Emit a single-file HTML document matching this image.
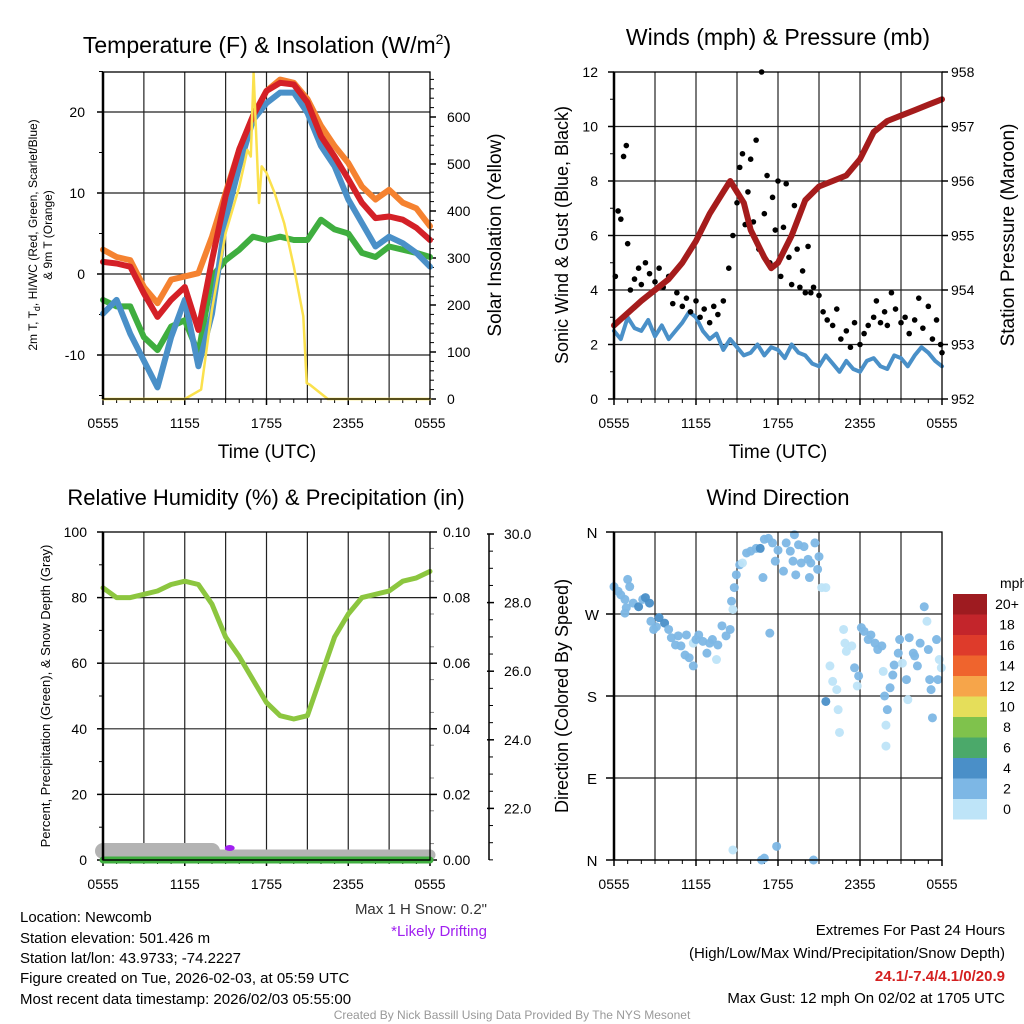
<!DOCTYPE html>
<html><head><meta charset="utf-8">
<style>
html,body{margin:0;padding:0;background:#fff;}
svg{display:block;font-family:"Liberation Sans",Arial,sans-serif;}
</style></head>
<body>
<svg id="fig" width="1024" height="1024" viewBox="0 0 1024 1024" xmlns="http://www.w3.org/2000/svg">
<rect width="1024" height="1024" fill="#fff"/>
<g id="g1"></g>
<g id="g2"></g>
<g id="g3"></g>
<g id="g4"></g>
<g id="g5">
<text x="267" y="53" font-size="23" text-anchor="middle">Temperature (F) &amp; Insolation (W/m<tspan font-size="14" dy="-9">2</tspan><tspan dy="9">)</tspan></text>
<text x="778" y="45" font-size="23" text-anchor="middle">Winds (mph) &amp; Pressure (mb)</text>
<text x="266" y="505" font-size="22" text-anchor="middle">Relative Humidity (%) &amp; Precipitation (in)</text>
<text x="778" y="505" font-size="22" text-anchor="middle">Wind Direction</text>

<text x="267" y="458" font-size="19" text-anchor="middle">Time (UTC)</text>
<text x="778" y="458" font-size="19" text-anchor="middle">Time (UTC)</text>
<text transform="translate(37,235) rotate(-90)" font-size="12" text-anchor="middle">2m T, T<tspan font-size="9" dy="3">d</tspan><tspan dy="-3">, HI/WC (Red, Green, Scarlet/Blue)</tspan></text>
<text transform="translate(52,235) rotate(-90)" font-size="12" text-anchor="middle">&amp; 9m T (Orange)</text>
<text transform="translate(501,235) rotate(-90)" font-size="19" text-anchor="middle">Solar Insolation (Yellow)</text>
<text transform="translate(568,235) rotate(-90)" font-size="18" text-anchor="middle">Sonic Wind &amp; Gust (Blue, Black)</text>
<text transform="translate(1014,235) rotate(-90)" font-size="19" text-anchor="middle">Station Pressure (Maroon)</text>
<text transform="translate(50,696) rotate(-90)" font-size="13" text-anchor="middle">Percent, Precipitation (Green), &amp; Snow Depth (Gray)</text>
<text transform="translate(568,696) rotate(-90)" font-size="18" text-anchor="middle">Direction (Colored By Speed)</text>

<text x="487" y="914" font-size="15" text-anchor="end" fill="#333">Max 1 H Snow: 0.2"</text>
<text x="487" y="936" font-size="15" text-anchor="end" fill="#a020f0">*Likely Drifting</text>
<g font-size="15">
<text x="20" y="922">Location: Newcomb</text>
<text x="20" y="943">Station elevation: 501.426 m</text>
<text x="20" y="963">Station lat/lon: 43.9733; -74.2227</text>
<text x="20" y="983">Figure created on Tue, 2026-02-03, at 05:59 UTC</text>
<text x="20" y="1004">Most recent data timestamp: 2026/02/03 05:55:00</text>
</g>
<g font-size="15" text-anchor="end">
<text x="1005" y="935">Extremes For Past 24 Hours</text>
<text x="1005" y="958">(High/Low/Max Wind/Precipitation/Snow Depth)</text>
<text x="1005" y="981" fill="#d42020" font-weight="bold">24.1/-7.4/4.1/0/20.9</text>
<text x="1005" y="1003">Max Gust: 12 mph On 02/02 at 1705 UTC</text>
</g>
<text x="512" y="1019" font-size="12" fill="#999" text-anchor="middle">Created By Nick Bassill Using Data Provided By The NYS Mesonet</text>
</g>
</svg>
<script>
// ---------- DATA ----------
const hours = [0,1,2,3,4,5,6,7,8,9,10,11,12,13,14,15,16,17,18,19,20,21,22,23,24];
const tempRed = [1.5,1.3,0.9,-2.4,-5.3,-3.2,-1.6,-6.9,1.7,9.6,15.4,19.5,22.6,23.6,23.4,21.2,17,14.5,11.7,8.8,6.9,7.1,6.7,5.7,4.2];
const tempOrange = [3,2.1,1.7,-1.6,-3.6,-0.7,-0.3,0.1,4.6,10,15.4,19.5,22.6,24,23.6,21.6,18.3,15.8,13.7,10.8,9.2,10.4,8.8,8.1,5.9];
const tempBlue = [-4.9,-3.2,-7.4,-10.7,-14,-7.8,-3.2,-11.4,-4.9,6.7,13.3,19,21.1,22.4,22.4,19.9,15.8,13.3,9.2,6.3,3.4,4.6,3.8,2.6,0.9];
const tempGreen = [-3.2,-4,-4,-7.8,-9.4,-6.5,-5.7,-9.8,-0.3,1.7,3,4.6,4.2,4.6,4.2,4.2,6.7,5.5,5,2.6,2.1,3.4,3,2.6,2.1];
const solarHours = [0,6,7.2,8,9,10,10.6,10.85,11.05,11.45,11.65,12,12.6,13.3,14,14.7,14.95,15.2,16.5,24];
const solarValues = [0,0,20,190,353,452,530,516,694,417,495,481,438,374,282,176,34,30,0,0];
const tempTicks = [-10,0,10,20];
const solarTicks = [0,100,200,300,400,500,600];
const timeLabels = ["0555","1155","1755","2355","0555"];
const timeLabelHours = [0,6,12,18,24];

const pressHours = [0,2,4,5,6,7,8,8.5,9.5,10,11,11.5,12,13,14,15,16,17,18,19,20,21,22,23,24];
const pressValues = [953.35,953.8,954.2,954.5,954.9,955.4,955.8,956.0,955.6,955.1,954.6,954.4,954.5,955.0,955.65,955.9,956.0,956.1,956.4,956.9,957.1,957.2,957.3,957.4,957.5];
const windHours = [0,0.5,1,1.5,2,2.5,3,3.5,4,4.5,5,5.5,6,6.5,7,7.5,8,8.5,9,9.5,10,10.5,11,11.5,12,12.5,13,13.5,14,14.5,15,15.5,16,16.5,17,17.5,18,18.5,19,19.5,20,20.5,21,21.5,22,22.5,23,23.5,24];
const windValues = [2.5,2.2,3.0,2.6,2.5,2.9,2.3,2.7,2.2,2.5,2.8,3.2,3.0,2.5,2.2,2.4,1.8,2.2,1.9,1.6,1.7,2.0,1.6,1.9,1.8,1.5,2.0,1.7,1.6,1.3,1.2,1.6,1.3,1.0,1.4,1.1,1.0,1.4,1.5,1.2,1.1,1.6,1.5,1.2,1.6,1.9,1.7,1.4,1.2];
const gustHours = [0.1,0.3,0.5,0.7,0.9,1.0,1.2,1.5,1.8,2.0,2.3,2.6,3.0,3.3,3.6,4.0,4.3,4.6,5.0,5.3,5.6,6.0,6.3,6.6,7.0,7.3,7.6,8.0,8.4,8.7,9.0,9.2,9.4,9.6,9.8,10.0,10.2,10.4,10.6,10.8,11.0,11.2,11.4,11.6,11.8,12.0,12.2,12.4,12.6,12.8,13.0,13.2,13.4,13.6,13.8,14.0,14.2,14.4,14.6,15.0,15.3,15.6,16.0,16.3,16.6,17.0,17.3,17.6,18.0,18.3,18.6,19.0,19.2,19.5,19.8,20.0,20.3,20.6,21.0,21.3,21.6,22.0,22.3,22.6,23.0,23.3,23.6,23.9,24.0];
const gustValues = [4.5,6.9,6.6,8.9,9.3,5.7,4.0,4.4,4.8,4.2,5.0,4.6,4.3,4.8,4.1,4.5,3.5,3.9,3.4,3.7,3.2,3.6,3.0,3.3,2.8,3.4,3.1,3.6,4.8,6.0,7.2,8.5,9.0,6.4,7.6,8.8,6.5,9.5,5.5,12.0,6.8,8.2,5.0,7.4,6.2,8.0,4.5,6.3,7.9,5.2,4.2,7.1,5.5,4.1,4.7,3.9,5.6,3.9,4.1,3.8,3.2,2.9,2.7,3.3,2.2,2.5,1.9,2.8,2.0,2.4,2.7,3.0,3.6,2.8,3.2,2.7,3.9,3.3,2.8,3.0,2.4,2.9,3.7,2.6,3.4,2.2,2.9,2.0,1.7];
const windTicks = [0,2,4,6,8,10,12];
const pressTicks = [952,953,954,955,956,957,958];

const rhHours = hours;
const rhValues = [83,80,80,81,82,84,85,84,78,68,62,55,48,44,43,44,56,68,75,80,81,82,85,86,88];
const precipValues = [0,0,0,0,0,0,0,0,0,0,0,0,0,0,0,0,0,0,0,0,0,0,0,0,0];
const snowHours = [0,8,8.3,24];
const snowValues = [20.9,20.9,20.5,20.5];
const rhTicks = [0,20,40,60,80,100];
const precipTicks = [0,0.02,0.04,0.06,0.08,0.10];
const snowTicks = [22,24,26,28,30];

const dirHours = [0,0.3,0.5,0.8,1,1.15,0.9,0.8,1.4,1.8,2.1,2.3,2.6,2.7,2.9,3.1,3.3,3.7,4,4.2,4.5,4.7,4.9,5.2,5.3,5.5,5.8,5.8,6,6.2,6.5,6.8,7,7.2,7.5,7.6,7.9,8.2,8.5,8.6,8.7,8.8,8.95,9.2,9.4,9.7,10,10.4,10.7,10.9,11,11.3,11.4,11.6,11.8,12,12.4,12.6,12.9,13.1,13.2,13.3,13.5,13.7,13.9,14.2,14.3,14.4,14.7,14.9,15,15.2,15.5,15.5,15.8,16,16.3,16.4,16.5,16.8,16.9,17,17.4,17.6,17.8,17.9,18.1,18.3,18.6,18.8,19.1,19.3,19.6,19.7,19.8,20,19.9,19.9,20.2,20.4,20.5,20.8,20.9,21.1,21.4,21.5,21.6,21.9,22,22.2,22.4,22.7,22.9,23,23.1,23.2,23.3,23.6,23.7,23.8,23.95,8.7,10.8,11,11.9,14.6];
const dirValues = [300,295,291,286,308,300,277,271,282,278,286,288,282,262,253,256,266,260,253,244,236,246,235,225,247,222,213,238,242,247,240,227,238,242,220,236,257,246,253,284,275,299,313,324,326,337,339,342,342,310,352,353,249,348,328,340,317,348,339,328,357,313,346,326,344,330,310,326,348,319,333,299,299,174,213,196,187,165,140,253,238,229,235,211,191,202,255,251,242,247,238,231,235,207,180,165,148,125,189,203,214,227,242,216,198,176,244,227,224,213,238,278,262,231,198,187,156,242,198,220,211,11,0,2,15,0];
const dirSpeeds = [3,3,3,3,3,3,3,3,3,4,3,4,4,3,3,3,4,4,3,3,3,3,3,3,3,3,3,1,3,3,3,3,3,3,1,3,3,3,3,3,1,3,3,3,1,3,3,3,4,3,3,3,3,3,3,3,3,3,3,3,3,3,3,3,3,3,3,3,3,3,3,1,1,4,1,1,1,1,1,1,1,1,1,3,1,3,3,3,3,3,3,3,3,1,3,3,1,1,3,3,3,3,3,1,3,1,3,3,3,3,3,3,1,3,3,3,3,3,3,1,1,1,3,3,3,3,3];
const dirTicks = [360,270,180,90,0];
const dirLabels = ["N","W","S","E","N"];
const cbLabels = ["20+","18","16","14","12","10","8","6","4","2","0"];
const cbColors = ["#9e1b20","#c3252b","#de3b2b","#ef642d","#f6a54a","#e5de5a","#7fc24c","#4ba96a","#4a8fc8","#7db7e5","#bee4f8"];

// ---------- HELPERS ----------
const NS = "http://www.w3.org/2000/svg";
function mk(tag, attrs, parent){const e=document.createElementNS(NS,tag);for(const k in attrs)e.setAttribute(k,attrs[k]);parent.appendChild(e);return e;}
function line(p,x1,y1,x2,y2,c,w){return mk("line",{x1,y1,x2,y2,stroke:c,"stroke-width":w},p);}
function txt(p,x,y,s,size,anchor,fill){const t=mk("text",{x,y,"font-size":size,"text-anchor":anchor,fill:fill||"#000"},p);t.textContent=s;return t;}
function poly(p,xs,ys,fx,fy,c,w){let d="";for(let i=0;i<xs.length;i++)d+=(i?"L":"M")+fx(xs[i]).toFixed(1)+","+fy(ys[i]).toFixed(1);return mk("path",{d,fill:"none",stroke:c,"stroke-width":w,"stroke-linejoin":"round","stroke-linecap":"round"},p);}

function timeAxis(g,x0,x1,y0,y1){
  const fx=h=>x0+h*(x1-x0)/24;
  for(let h=3;h<24;h+=3){const l=line(g,fx(h),y0,fx(h),y1,"#222",1.2);

}
  for(let i=0;i<timeLabels.length;i++){
    const x=fx(timeLabelHours[i]);
    line(g,x,y1,x,y1+6,"#000",1.5);
    const t=txt(g,x,y1+29,timeLabels[i],14,"middle");


  }
  for(let h=1;h<24;h++){ if(h%6) line(g,fx(h),y1,fx(h),y1+4,"#000",1);}
  return fx;
}
function frame(g,x0,x1,y0,y1){
  mk("rect",{x:x0,y:y0,width:x1-x0,height:y1-y0,fill:"none",stroke:"#000","stroke-width":1.3},g);
  line(g,x0,y0,x0,y1,"#000",2.5);
}

// ---------- PANEL 1 ----------
(function(){
  const g=document.getElementById("g1");
  const x0=103,x1=430,y0=72,y1=399;
  const fy=v=>274-v*8.1;
  const fs=v=>399-v*0.47;
  const fx=timeAxis(g,x0,x1,y0,y1);
  tempTicks.forEach(v=>{const l=line(g,x0,fy(v),x1,fy(v),"#222",1.2);


    line(g,x0-6,fy(v),x0,fy(v),"#000",1.5);
    const t=txt(g,x0-18,fy(v)+5,String(v),14,"end");

});
  for(let v=-15;v<=25;v+=5){ if(v%10) line(g,x0-4,fy(v),x0,fy(v),"#000",1);}
  solarTicks.forEach(v=>{line(g,x1,fs(v),x1+6,fs(v),"#000",1.5);
    const t=txt(g,x1+17,fs(v)+5,String(v),14,"start");

});
  for(let v=20;v<=680;v+=20){ if(v%100) line(g,x1,fs(v),x1+4,fs(v),"#000",1);}
  const s1=poly(g,hours,tempOrange,fx,fy,"#f58230",6);


  const s2=poly(g,hours,tempGreen,fx,fy,"#3fae3f",6);


  const s3=poly(g,hours,tempBlue,fx,fy,"#4a90c8",6);


  const s4=poly(g,hours,tempRed,fx,fy,"#d42027",6);


  const s5=poly(g,solarHours,solarValues,fx,fs,"#fbe14d",2.5);


  frame(g,x0,x1,y0,y1);
})();

// ---------- PANEL 2 ----------
(function(){
  const g=document.getElementById("g2");
  const x0=614,x1=942,y0=72,y1=399;
  const fy=v=>399-v*27.25;
  const fp=v=>399-(v-952)*54.5;
  const fx=timeAxis(g,x0,x1,y0,y1);
  windTicks.forEach(v=>{ if(v>0&&v<12){const l=line(g,x0,fy(v),x1,fy(v),"#222",1.2);

}
    line(g,x0-6,fy(v),x0,fy(v),"#000",1.5);
    const t=txt(g,x0-16,fy(v)+5,String(v),14,"end");

});
  for(let v=1;v<12;v+=2) line(g,x0-4,fy(v),x0,fy(v),"#000",1);
  pressTicks.forEach(v=>{line(g,x1,fp(v),x1+6,fp(v),"#000",1.5);
    const t=txt(g,x1+9,fp(v)+5,String(v),14,"start");

});
  const w=poly(g,windHours,windValues,fx,fy,"#4a90c8",4);


  for(let i=0;i<gustHours.length;i++){
    const c=mk("circle",{cx:fx(gustHours[i]),cy:fy(gustValues[i]),r:2.8,fill:"#000"},g);


  }
  const p=poly(g,pressHours,pressValues,fx,fp,"#a51c1c",6);


  frame(g,x0,x1,y0,y1);
})();

// ---------- PANEL 3 ----------
(function(){
  const g=document.getElementById("g3");
  const x0=103,x1=430,y0=532,y1=860;
  const fy=v=>860-v*3.28;
  const fpr=v=>860-v*3280;
  const fsn=v=>534+(30-v)*34.3;
  const fx=timeAxis(g,x0,x1,y0,y1);
  rhTicks.forEach(v=>{ if(v>0&&v<100){const l=line(g,x0,fy(v),x1,fy(v),"#222",1.2);

}
    line(g,x0-6,fy(v),x0,fy(v),"#000",1.5);
    const t=txt(g,x0-16,fy(v)+5,String(v),14,"end");

});
  for(let v=10;v<100;v+=20) line(g,x0-4,fy(v),x0,fy(v),"#000",1);
  precipTicks.forEach(v=>{line(g,x1,fpr(v),x1+7,fpr(v),"#000",1.5);
    const t=txt(g,x1+13,fpr(v)+5,v.toFixed(2),14,"start");

});
  for(let v=0.005;v<0.1;v+=0.01) line(g,x1,fpr(v),x1+4,fpr(v),"#888",1);
  const ax=line(g,489,534,489,860,"#000",1.5);


  snowTicks.forEach(v=>{line(g,487,fsn(v),494,fsn(v),"#000",1.5);
    const t=txt(g,504,fsn(v)+5,v.toFixed(1),14,"start");

});
  for(let v=20.5;v<30;v+=0.5){ if(v%2) line(g,489,fsn(v),493,fsn(v),"#000",1);}
  const sd=mk("path",{d:"M"+fx(0)+",851L"+fx(8)+",851",stroke:"#b3b3b3","stroke-width":16,"stroke-linecap":"round",fill:"none"},g);


  const sd2=mk("path",{d:"M"+fx(8)+",855L"+fx(24)+",855",stroke:"#b3b3b3","stroke-width":11,"stroke-linecap":"round",fill:"none"},g);


  const pr=poly(g,rhHours,precipValues,fx,fpr,"#3fae3f",7);


  const dr=mk("ellipse",{cx:fx(9.3),cy:848,rx:5,ry:3,fill:"#a020f0"},g);


  const rh=poly(g,rhHours,rhValues,fx,fy,"#8cc63f",5);


  line(g,x0,860,x1,860,"#000",1.3);
  frame(g,x0,x1,y0,y1);
})();

// ---------- PANEL 4 ----------
(function(){
  const g=document.getElementById("g4");
  const x0=614,x1=942,y0=532,y1=860;
  const fy=v=>860-v*0.9111;
  const fx=timeAxis(g,x0,x1,y0,y1);
  dirTicks.forEach((v,i)=>{ if(v>0&&v<360){const l=line(g,x0,fy(v),x1,fy(v),"#222",1.2);

}
    line(g,x0-8,fy(v),x0,fy(v),"#000",1.5);
    const t=txt(g,x0-22,fy(v)+6,dirLabels[i],15,"middle");

});
  const spdColor=s=>cbColors[10-Math.min(10,Math.floor(s/2))];
  for(let i=0;i<dirHours.length;i++){
    const c=mk("circle",{cx:fx(dirHours[i]),cy:fy(dirValues[i]),r:4.5,fill:spdColor(dirSpeeds[i]),"fill-opacity":0.95},g);


  }
  line(g,x0,860,x1,860,"#000",1.3);
  frame(g,x0,x1,y0,y1);
  // colorbar
  const cb=mk("g",{},g);


  txt(cb,1000,588,"mph",14,"start");
  for(let i=0;i<cbColors.length;i++){
    const r=mk("rect",{x:953,y:594+i*20.5,width:34,height:20.5,fill:cbColors[i]},cb);


    const t=txt(cb,1007,604+i*20.5+5,cbLabels[i],14,"middle");


  }
})();
</script>
</body></html>
